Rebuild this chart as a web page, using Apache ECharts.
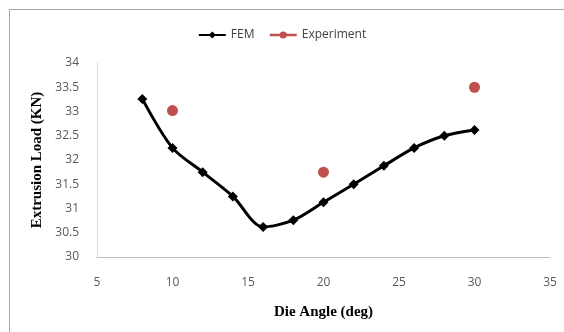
<!DOCTYPE html>
<html>
<head>
<meta charset="utf-8">
<script src="https://cdn.jsdelivr.net/npm/echarts@6/dist/echarts.min.js"></script>
<style>
  html, body { margin: 0; padding: 0; background: #fff; }
  #chart { width: 564px; height: 332px; }
</style>
</head>
<body>
<div id="chart"></div>
<script>
// die angle (deg)
var femAngle = [8, 10, 12, 14, 16, 18, 20, 22, 24, 26, 28, 30]
var femLoad = [33.26, 32.25, 31.75, 31.25, 30.62, 30.76, 31.13, 31.5, 31.88, 32.25, 32.5, 32.62]
var expAngle = [10, 20, 30]
var expLoad = [33.02, 31.75, 33.5]

function pairs(xs, ys) {
  return xs.map(function (x, i) { return [x, ys[i]] })
}

var myChart = echarts.init(document.getElementById('chart'))
myChart.setOption({
  animation: false,
  graphic: [{
    type: 'rect',
    shape: { x: 9.5, y: 9.5, width: 600, height: 400 },
    style: { fill: 'none', stroke: '#a6a6a6', lineWidth: 1 }
  }],
  legend: {
    top: 24,
    left: 'center',
    itemGap: 14,
    itemWidth: 27,
    itemHeight: 9,
    textStyle: { fontFamily: 'Open Sans', fontSize: 12, color: '#404040' },
    data: [
      'FEM',
      { name: 'Experiment', lineStyle: { width: 2.5, color: '#c0504d', opacity: 1 } }
    ]
  },
  grid: { left: 97, right: 14, top: 63, bottom: 75 },
  xAxis: {
    type: 'value',
    min: 5,
    max: 35,
    interval: 5,
    name: 'Die Angle (deg)',
    nameLocation: 'middle',
    nameGap: 48,
    nameTextStyle: { fontFamily: 'Liberation Serif', fontWeight: 'bold', fontSize: 15, color: '#000' },
    splitLine: { show: false },
    axisTick: { show: false },
    axisLine: { lineStyle: { color: '#bfbfbf' } },
    axisLabel: { margin: 20, fontFamily: 'Open Sans', fontSize: 12, color: '#595959' }
  },
  yAxis: {
    type: 'value',
    min: 30,
    max: 34,
    interval: 0.5,
    name: 'Extrusion Load (KN)',
    nameLocation: 'middle',
    nameGap: 52,
    nameTextStyle: { fontFamily: 'Liberation Serif', fontWeight: 'bold', fontSize: 15, color: '#000' },
    splitLine: { show: false },
    axisTick: { show: false },
    axisLine: { show: true, lineStyle: { color: '#d9d9d9' } },
    axisLabel: { margin: 18, fontFamily: 'Open Sans', fontSize: 12, color: '#595959' }
  },
  series: [{
    name: 'FEM',
    type: 'line',
    smooth: 0.3,
    symbol: 'diamond',
    symbolSize: 10,
    lineStyle: { color: '#000', width: 3 },
    itemStyle: { color: '#000' },
    data: pairs(femAngle, femLoad)
  }, {
    name: 'Experiment',
    type: 'line',
    symbol: 'circle',
    symbolSize: 11,
    lineStyle: { width: 0, color: '#c0504d' },
    itemStyle: { color: '#c0504d' },
    data: pairs(expAngle, expLoad)
  }]
})
</script>
</body>
</html>
